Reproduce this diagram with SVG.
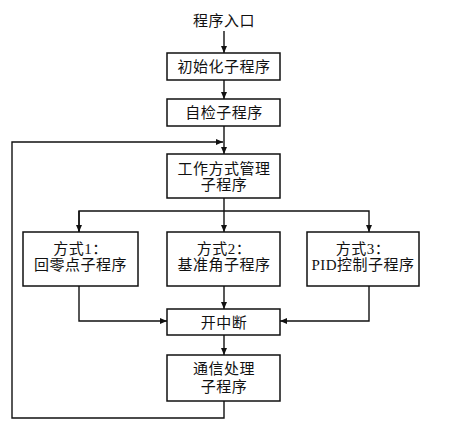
<svg xmlns="http://www.w3.org/2000/svg" width="462" height="429" viewBox="0 0 462 429">
<style>
  .box { fill: #fff; stroke: #111; stroke-width: 1.5; }
  .t { font-family: "Liberation Serif", "Noto Sans CJK SC", serif; font-size: 15px; fill: #111; text-anchor: middle; dominant-baseline: central; letter-spacing: 0.5px; }
  .c { fill: none; stroke: #111; stroke-width: 1.4; }
</style>
<defs>
  <marker id="ah" markerUnits="userSpaceOnUse" markerWidth="7" markerHeight="6" refX="7" refY="3" orient="auto">
    <path d="M0,0 L7,3 L0,6 Z" fill="#111"/>
  </marker>
</defs>
<rect width="462" height="429" fill="#fff"/>
<g id="connectors">
  <path class="c" d="M224,31 V53" marker-end="url(#ah)"/>
  <path class="c" d="M224,80 V99" marker-end="url(#ah)"/>
  <path class="c" d="M224,126 V154" marker-end="url(#ah)"/>
  <path class="c" d="M224,401 V418 H12 V142 H223" marker-end="url(#ah)"/>
  <path class="c" d="M224,198 V232" marker-end="url(#ah)"/>
  <path class="c" d="M79,232 V211 H224"/>
  <path class="c" d="M79,211 V232" marker-end="url(#ah)"/>
  <path class="c" d="M224,211 H369 V232" marker-end="url(#ah)"/>
  <path class="c" d="M79,286 V321 H167" marker-end="url(#ah)"/>
  <path class="c" d="M369,286 V321 H280" marker-end="url(#ah)"/>
  <path class="c" d="M224,286 V309" marker-end="url(#ah)"/>
  <path class="c" d="M224,335 V355" marker-end="url(#ah)"/>
</g>
<g id="entry">
  <text class="t" x="224" y="21">程序入口</text>
</g>
<g id="init">
  <rect class="box" x="167" y="53" width="113" height="27"/>
  <text class="t" x="224" y="67">初始化子程序</text>
</g>
<g id="selfcheck">
  <rect class="box" x="167" y="99" width="113" height="27"/>
  <text class="t" x="224" y="113">自检子程序</text>
</g>
<g id="mode-manage">
  <rect class="box" x="167" y="154" width="113" height="44"/>
  <text class="t" x="224" y="168.5">工作方式管理</text>
  <text class="t" x="224" y="185">子程序</text>
</g>
<g id="mode1">
  <rect class="box" x="23" y="232" width="115" height="54"/>
  <text class="t" x="80.5" y="249">方式1：</text>
  <text class="t" x="80.5" y="265">回零点子程序</text>
</g>
<g id="mode2">
  <rect class="box" x="167" y="232" width="113" height="54"/>
  <text class="t" x="224" y="249">方式2：</text>
  <text class="t" x="224" y="265">基准角子程序</text>
</g>
<g id="mode3">
  <rect class="box" x="307" y="232" width="112" height="54"/>
  <text class="t" x="363" y="249">方式3：</text>
  <text class="t" x="363" y="265">PID控制子程序</text>
</g>
<g id="enable-int">
  <rect class="box" x="167" y="309" width="113" height="26"/>
  <text class="t" x="224" y="322.5">开中断</text>
</g>
<g id="comm">
  <rect class="box" x="167" y="355" width="113" height="46"/>
  <text class="t" x="224" y="368.5">通信处理</text>
  <text class="t" x="224" y="387">子程序</text>
</g>
</svg>
